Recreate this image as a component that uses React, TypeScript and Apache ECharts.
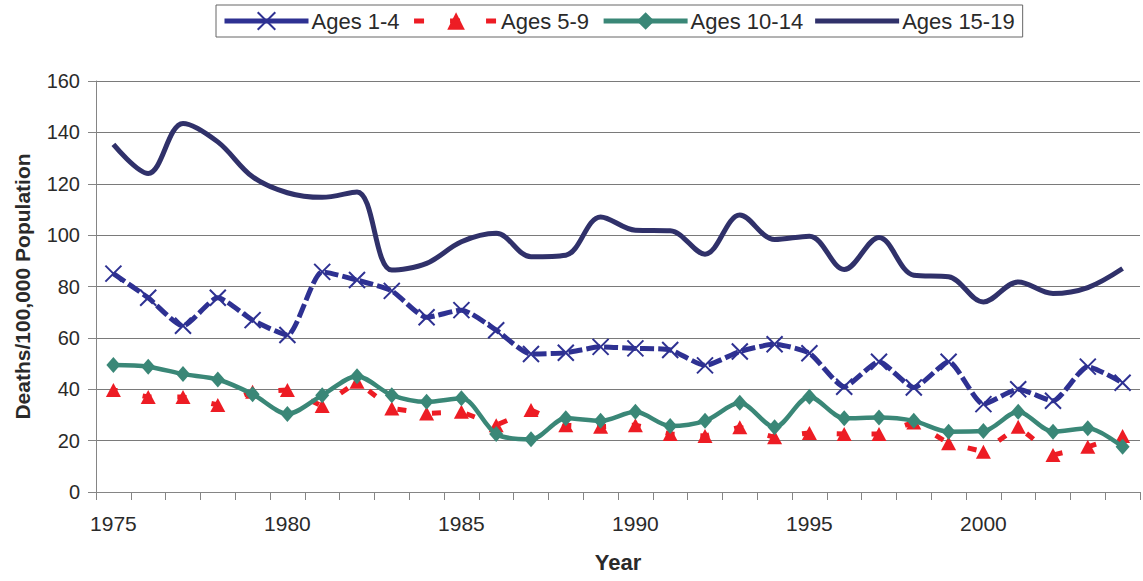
import React, { useEffect, useRef } from "react";
import * as echarts from "echarts";

const years = [
  "1975", "1976", "1977", "1978", "1979", "1980", "1981", "1982", "1983", "1984",
  "1985", "1986", "1987", "1988", "1989", "1990", "1991", "1992", "1993", "1994",
  "1995", "1996", "1997", "1998", "1999", "2000", "2001", "2002", "2003", "2004",
];

const ages1to4 = [
  85, 75.6, 64.7, 75.6, 66.9, 61.1, 85.7, 82.5, 78.3, 68,
  70.8, 63, 53.7, 54.2, 56.5, 55.9, 55.3, 49.3, 54.7, 57.5,
  54, 41, 50.7, 40.7, 50.7, 34.2, 40, 35.5, 48.8, 42.5,
];

const ages5to9 = [
  39.7, 37, 37, 33.9, 39, 39.7, 33.5, 42.9, 32.5, 30.6,
  31.2, 26, 31.9, 26, 25.4, 26, 22.6, 21.8, 25.2, 21.3,
  23, 22.6, 22.6, 27.1, 19, 15.7, 25.4, 14.4, 17.6, 21.8,
];

const ages10to14 = [
  49.4, 48.8, 45.9, 43.8, 38.1, 30.4, 37.7, 45.1, 37.7, 35.1,
  36.5, 22.6, 20.5, 28.7, 27.7, 31.2, 25.7, 27.7, 34.7, 25.2,
  37.1, 28.7, 29, 27.7, 23.5, 23.7, 31.2, 23.5, 24.8, 17.6,
];

const ages15to19 = [
  135.3, 124, 143.5, 136.3, 122.7, 116.5, 114.7, 116.8, 86.4, 89,
  97.4, 100.7, 91.6, 92.2, 107.1, 101.9, 101.7, 92.6, 107.8, 98.3,
  99.6, 86.6, 99.1, 84.4, 83.8, 74, 81.8, 77.3, 79.6, 87,
];

const seriesNames = ["Ages 1-4", "Ages 5-9", "Ages 10-14", "Ages 15-19"];
const yTicks = { min: 0, max: 160, interval: 20 };

const FONT = "'Liberation Sans', Arial, Helvetica, sans-serif";
const TEXT = "#2a2a2a";
const C14 = "#2E3192";
const C59 = "#ED1C24";
const C1014 = "#3A8777";
const C1519 = "#30316A";

export default function App() {
  const ref = useRef<HTMLDivElement>(null);

  useEffect(() => {
    if (!ref.current) return;
    const chart = echarts.init(ref.current, undefined, { renderer: "svg" });
    const xSym = "path://M0,0L20,20M20,0L0,20";
    chart.setOption({
      animation: false,
      backgroundColor: "#ffffff",
      textStyle: { fontFamily: FONT, color: TEXT },
      legend: {
        left: 216,
        top: 5,
        padding: [5, 8, 5, 6],
        borderColor: "#666",
        borderWidth: 1,
        itemWidth: 84,
        itemHeight: 22,
        itemGap: 12,
        textStyle: { fontFamily: FONT, fontSize: 22, color: TEXT, padding: [0, 0, 0, -2] },
        data: [
          { name: seriesNames[0], lineStyle: { width: 5, type: "solid", color: C14 } },
          { name: seriesNames[1], lineStyle: { width: 5, color: C59, type: [10, 26], dashOffset: 0 } },
          { name: seriesNames[2], lineStyle: { width: 5, type: "solid", color: C1014 } },
          {
            name: seriesNames[3],
            icon: "path://M0,0L84,0L84,5L0,5Z",
            itemStyle: { color: C1519 },
          },
        ],
      },
      grid: { left: 96, right: 3, top: 81, bottom: 89, containLabel: false },
      xAxis: {
        type: "category",
        data: years,
        boundaryGap: true,
        name: "Year",
        nameLocation: "middle",
        nameGap: 59,
        nameTextStyle: { fontFamily: FONT, fontSize: 22, fontWeight: "bold", color: TEXT },
        axisLine: { lineStyle: { color: "#858585", width: 1 } },
        axisTick: { show: true, interval: 0, length: 8, lineStyle: { color: "#858585" } },
        axisLabel: { interval: 4, margin: 21, fontSize: 21, color: TEXT, fontFamily: FONT },
        splitLine: { show: false },
      },
      yAxis: {
        type: "value",
        min: yTicks.min,
        max: yTicks.max,
        interval: yTicks.interval,
        name: "Deaths/100,000 Population",
        nameLocation: "middle",
        nameGap: 63,
        nameTextStyle: { fontFamily: FONT, fontSize: 21, fontWeight: "bold", color: TEXT },
        axisLine: { show: true, lineStyle: { color: "#858585", width: 1 } },
        axisTick: { show: true, length: 8, lineStyle: { color: "#858585" } },
        axisLabel: { margin: 16, fontSize: 20, color: TEXT, fontFamily: FONT },
        splitLine: { show: true, lineStyle: { color: "#7a7a7a", width: 1 } },
      },
      series: [
        {
          name: "Ages 1-4",
          type: "line",
          data: ages1to4,
          smooth: 0.2,
          symbol: xSym,
          symbolSize: 16,
          itemStyle: { color: C14, borderColor: C14, borderWidth: 2 },
          lineStyle: { color: C14, width: 5, type: [14, 4] },
          z: 3,
        },
        {
          name: "Ages 5-9",
          type: "line",
          data: ages5to9,
          smooth: false,
          symbol: "triangle",
          symbolSize: [15, 14],
          itemStyle: { color: C59 },
          lineStyle: { color: C59, width: 5, type: [9, 25.8], dashOffset: 4.5 },
          z: 2,
        },
        {
          name: "Ages 10-14",
          type: "line",
          data: ages10to14,
          smooth: 0.3,
          symbol: "diamond",
          symbolSize: [14, 16],
          itemStyle: { color: C1014 },
          lineStyle: { color: C1014, width: 4.5 },
          z: 4,
        },
        {
          name: "Ages 15-19",
          type: "line",
          data: ages15to19,
          smooth: 0.35,
          symbol: "none",
          itemStyle: { color: C1519 },
          lineStyle: { color: C1519, width: 5 },
          z: 5,
        },
      ],
    });
    return () => chart.dispose();
  }, []);

  return (
    <div
      ref={ref}
      style={{ position: "fixed", left: 0, top: 0, width: 1143, height: 581, background: "#fff" }}
    />
  );
}
